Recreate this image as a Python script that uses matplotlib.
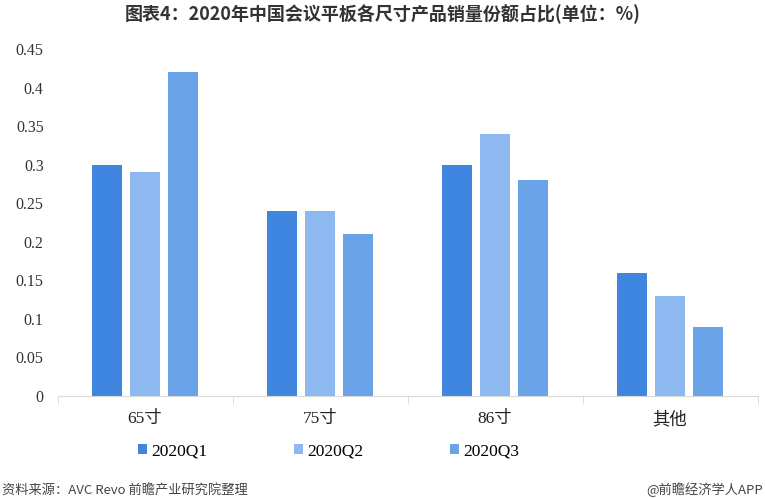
import numpy as np
import matplotlib
matplotlib.use('Agg')
import matplotlib.pyplot as plt

categories = ['65寸', '75寸', '86寸', '其他']
series_names = ['2020Q1', '2020Q2', '2020Q3']
q1 = [0.30, 0.24, 0.30, 0.16]
q2 = [0.29, 0.24, 0.34, 0.13]
q3 = [0.42, 0.21, 0.28, 0.09]
yticks = [0, 0.05, 0.1, 0.15, 0.2, 0.25, 0.3, 0.35, 0.4, 0.45]
ytick_labels = ['0', '0.05', '0.1', '0.15', '0.2', '0.25', '0.3', '0.35', '0.4', '0.45']
colors = ['#3f86e0', '#8db8f0', '#6aa3e8']

serif = ['Liberation Serif', 'Noto Sans CJK SC']
sans = ['Noto Sans CJK SC', 'DejaVu Sans']

fig = plt.figure(figsize=(7.65, 4.98), dpi=100)
ax = fig.add_axes([0.0752, 0.2048, 0.915, 0.6968])

x = np.arange(len(categories))
width = 0.171
step = 0.217
for i, (vals, name, c) in enumerate(zip([q1, q2, q3], series_names, colors)):
    ax.bar(x + (i - 1) * step, vals, width, color=c, label=name)

ax.set_xlim(-0.5, len(categories) - 0.5)
ax.set_ylim(0, 0.45)
ax.set_yticks(yticks)
ax.set_yticklabels(ytick_labels, fontfamily=serif, fontsize=11.5, color='#333333')
ax.tick_params(axis='y', length=0, pad=10)

ax.set_xticks(x)
ax.set_xticklabels(categories, fontfamily=serif, fontsize=12.5, color='#222222')
ax.set_xticks(np.arange(len(categories) + 1) - 0.5, minor=True)
ax.tick_params(axis='x', which='major', length=0, pad=11)
ax.tick_params(axis='x', which='minor', length=6, color='#d9d9d9')

for s in ['top', 'right', 'left']:
    ax.spines[s].set_visible(False)
ax.spines['bottom'].set_color('#d9d9d9')

leg = fig.legend(loc='center', bbox_to_anchor=(0.43, 0.094), ncol=3, frameon=False,
                 prop={'family': serif, 'size': 12.5}, handlelength=0.5, handleheight=0.5,
                 handletextpad=0.25, columnspacing=5.0)

fig.text(0.5, 0.972, '图表4：2020年中国会议平板各尺寸产品销量份额占比(单位：%)',
         ha='center', va='center', fontsize=13, fontweight='bold',
         family=sans, color='#333333')
fig.text(0.003, 0.016, '资料来源：AVC Revo 前瞻产业研究院整理', ha='left', va='center',
         fontsize=9.5, family=sans, color='#444444')
fig.text(0.997, 0.016, '@前瞻经济学人APP', ha='right', va='center',
         fontsize=9.5, family=sans, color='#444444')

fig.savefig('out.png', dpi=100)
